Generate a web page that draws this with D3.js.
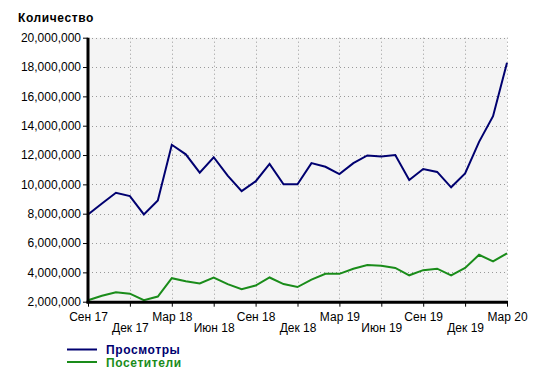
<!DOCTYPE html>
<html>
<head>
<meta charset="utf-8">
<script src="https://cdn.jsdelivr.net/npm/d3@7"></script>
<style>
  body { margin: 0; background: #fff; }
  svg { display: block; font-family: "Liberation Sans", Arial, sans-serif; }
</style>
</head>
<body>
<svg id="chart" width="536" height="377"></svg>
<script>
// monthly points, Sep 17 .. Mar 20
const months = ["Сен 17","Окт 17","Ноя 17","Дек 17","Янв 18","Фев 18","Мар 18","Апр 18","Май 18","Июн 18",
  "Июл 18","Авг 18","Сен 18","Окт 18","Ноя 18","Дек 18","Янв 19","Фев 19","Мар 19","Апр 19","Май 19",
  "Июн 19","Июл 19","Авг 19","Сен 19","Окт 19","Ноя 19","Дек 19","Янв 20","Фев 20","Мар 20"];
const views = [7.95, 8.7, 9.43, 9.2, 7.95, 8.9, 12.7, 12.05, 10.8, 11.85, 10.6,
  9.54, 10.2, 11.4, 10.0, 10.0, 11.45, 11.2, 10.7, 11.45, 11.97,
  11.9, 12.0, 10.3, 11.05, 10.85, 9.8, 10.75, 12.9, 14.65, 18.3].map(v => v * 1e6);
const visitors = [2.1, 2.4, 2.65, 2.55, 2.1, 2.35, 3.6, 3.4, 3.25, 3.65, 3.2,
  2.85, 3.1, 3.65, 3.2, 3.0, 3.5, 3.9, 3.9, 4.25, 4.5,
  4.45, 4.3, 3.8, 4.15, 4.25, 3.8, 4.3, 5.2, 4.75, 5.3].map(v => v * 1e6);
const yTicks = [2e6, 4e6, 6e6, 8e6, 10e6, 12e6, 14e6, 16e6, 18e6, 20e6];
const seriesNames = ["Просмотры", "Посетители"];
const seriesColors = ["#000070", "#1a8c1a"];

const svg = d3.select("#chart");
const plotLeft = 88, plotRight = 507, plotTop = 37.7, plotBottom = 301.7;

let x = d3.scalePoint().domain(months).range([plotLeft, plotRight]);
let y = d3.scaleLinear().domain([2e6, 20e6]).range([plotBottom, plotTop]);
let quarterTicks = months.filter((m, i) => i % 3 === 0);

// plot background
svg.append("rect")
  .attr("x", plotLeft).attr("y", plotTop)
  .attr("width", plotRight - plotLeft).attr("height", plotBottom - plotTop)
  .attr("fill", "#f4f4f4");

// grid
let grid = svg.append("g").attr("stroke", "#999").attr("stroke-dasharray", "1,3").attr("stroke-width", 1);
grid.selectAll(".h").data(yTicks.slice(1)).enter().append("line")
  .attr("x1", plotLeft).attr("x2", plotRight)
  .attr("y1", d => Math.round(y(d)) + 0.5).attr("y2", d => Math.round(y(d)) + 0.5);
grid.selectAll(".v").data(quarterTicks.slice(1)).enter().append("line")
  .attr("x1", d => Math.round(x(d)) + 0.5).attr("x2", d => Math.round(x(d)) + 0.5)
  .attr("y1", plotTop).attr("y2", plotBottom);

// lines
let line = d3.line().x((d, i) => x(months[i])).y(d => y(d));
[views, visitors].forEach((s, k) => {
  svg.append("path").datum(s)
    .attr("d", line)
    .attr("fill", "none")
    .attr("stroke", seriesColors[k])
    .attr("stroke-width", 2)
    .attr("stroke-linejoin", "miter");
});

// y axis
let yAxis = d3.axisLeft(y).tickValues(yTicks).tickSize(5).tickPadding(2)
  .tickFormat(d3.format(",.0f"));
let gy = svg.append("g").attr("transform", "translate(" + plotLeft + ",0)").call(yAxis);
gy.select(".domain").remove();
gy.selectAll("text").attr("font-size", 12).attr("fill", "#000").attr("font-family", "Liberation Sans, Arial");
gy.selectAll("line").attr("stroke", "#000");

// x axis
let xAxis = d3.axisBottom(x).tickValues(quarterTicks).tickSize(5).tickPadding(6);
let gx = svg.append("g").attr("transform", "translate(0," + plotBottom + ")").call(xAxis);
gx.select(".domain").remove();
gx.selectAll("line").attr("stroke", "#000");
gx.selectAll("text")
  .attr("font-size", 12).attr("fill", "#000").attr("font-family", "Liberation Sans, Arial")
  .attr("dy", (d, i) => i % 2 === 0 ? "0.71em" : "1.62em");

// thick axis lines
svg.append("line").attr("x1", plotLeft).attr("x2", plotLeft).attr("y1", plotTop).attr("y2", plotBottom + 1.5)
  .attr("stroke", "#000").attr("stroke-width", 3);
svg.append("line").attr("x1", plotLeft - 1.5).attr("x2", plotRight + 1).attr("y1", plotBottom + 0.5).attr("y2", plotBottom + 0.5)
  .attr("stroke", "#000").attr("stroke-width", 3);

// title
svg.append("text").attr("x", 18).attr("y", 22)
  .attr("font-size", 12).attr("font-weight", "bold").attr("letter-spacing", 0.6)
  .text("Количество");

// legend
let legend = svg.append("g");
seriesNames.forEach((n, k) => {
  let ly = 349.5 + k * 12.5;
  legend.append("line").attr("x1", 67).attr("x2", 97).attr("y1", ly).attr("y2", ly)
    .attr("stroke", seriesColors[k]).attr("stroke-width", 2);
  legend.append("text").attr("x", 106).attr("y", ly + 4.5)
    .attr("font-size", 12).attr("font-weight", "bold").attr("letter-spacing", 0.6)
    .attr("fill", seriesColors[k]).text(n);
});
</script>
</body>
</html>
